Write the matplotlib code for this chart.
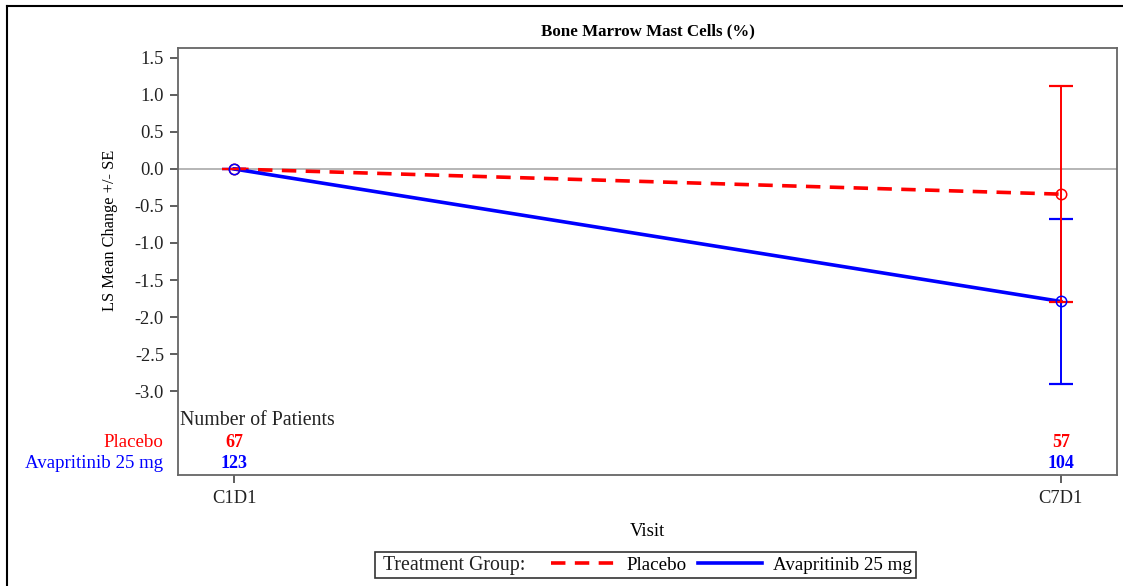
import numpy as np
import matplotlib
matplotlib.use('Agg')
import matplotlib.pyplot as plt
from matplotlib.lines import Line2D
from matplotlib.patches import Rectangle
from matplotlib.ticker import FormatStrFormatter
from matplotlib.transforms import blended_transform_factory

plt.rcParams['font.family'] = 'Liberation Serif'
plt.rcParams['font.size'] = 13
plt.rcParams['axes.unicode_minus'] = False

visits = ['C1D1', 'C7D1']
groups = ['Placebo', 'Avapritinib 25 mg']
colors = ['#ff0000', '#0000ff']
styles = [(0, (4, 2.6)), '-']

# LS mean change and SE per visit
means = {
    'Placebo': [0.0, -0.34],
    'Avapritinib 25 mg': [0.0, -1.79],
}
ses = {
    'Placebo': [0.0, 1.46],
    'Avapritinib 25 mg': [0.0, 1.11],
}
# number of patients per visit
n_patients = {
    'Placebo': [67, 57],
    'Avapritinib 25 mg': [123, 104],
}

W, H = 1123, 586
fig = plt.figure(figsize=(W / 100, H / 100), dpi=100)
ax = fig.add_axes([178 / W, 1 - 475 / H, (1117 - 178) / W, (475 - 48) / H])

x = np.arange(len(visits))
ax.axhline(0, color='#b0b0b0', lw=1.3, zorder=1)

# mean lines: blue solid, red dashed
ax.plot(x, means['Avapritinib 25 mg'], color=colors[1], ls=styles[1],
        lw=2.6, zorder=4)
ax.plot(x, means['Placebo'], color=colors[0], ls=styles[0], lw=2.6,
        zorder=3)
# error bars, placebo on top
ax.errorbar(x, means['Avapritinib 25 mg'], yerr=ses['Avapritinib 25 mg'],
            fmt='none', ecolor=colors[1], elinewidth=1.4, capsize=8.6,
            capthick=1.6, zorder=5)
ax.errorbar(x, means['Placebo'], yerr=ses['Placebo'], fmt='none',
            ecolor=colors[0], elinewidth=1.4, capsize=8.6, capthick=1.6,
            zorder=6)
# open circle markers, blue last
for zo, i in [(7, 0), (8, 1)]:
    ax.plot(x, means[groups[i]], 'o', mfc='none', mec=colors[i], ms=7.5,
            mew=1.1, zorder=zo)

ax.set_xlim(-0.068, 1.068)
ax.set_ylim(-4.135, 1.635)
ax.set_xticks(x)
ax.set_xticklabels(visits)
ax.set_yticks(np.arange(-3.0, 1.51, 0.5))
ax.yaxis.set_major_formatter(FormatStrFormatter('%.1f'))
ax.tick_params(axis='both', direction='out', length=6, width=1.1,
               colors='#333333', labelcolor='#222222', labelsize=13.3)
ax.tick_params(axis='x', pad=5)
ax.tick_params(axis='y', pad=4)
for sp in ax.spines.values():
    sp.set_color('#666666')
    sp.set_linewidth(1.3)

ax.set_title('Bone Marrow Mast Cells (%)', fontweight='bold', fontsize=12.2,
             pad=9)
ax.set_ylabel('LS Mean Change +/- SE', fontsize=11.8)
ax.yaxis.set_label_coords(-0.064, 0.574)
ax.set_xlabel('Visit', fontsize=13.5, labelpad=11)

# patient count table inside the plot area
tr = blended_transform_factory(ax.transData, ax.transAxes)
ax.text(0.002, 0.128, 'Number of Patients', transform=ax.transAxes,
        ha='left', va='center', fontsize=14.3, color='#222222')
row_y = [0.075, 0.026]
for i, g in enumerate(groups):
    ax.text(-0.016, row_y[i], g, transform=ax.transAxes, ha='right',
            va='center', color=colors[i], fontsize=13.6)
    for xi, n in zip(x, n_patients[g]):
        ax.text(xi, row_y[i], str(n), transform=tr, ha='center',
                va='center', color=colors[i], fontweight='bold', fontsize=13)

# legend box at the bottom
fig.patches.append(Rectangle((375 / W, 1 - 578 / H), (916 - 375) / W,
                             26 / H, transform=fig.transFigure,
                             fill=False, ec='#333333', lw=1.2))
fig.text(383 / W, 1 - 570 / H, 'Treatment Group:', ha='left',
         va='baseline', fontsize=14.3, color='#222222')
handles = [Line2D([], [], color=colors[i], ls=styles[i], lw=2.6)
           for i in range(len(groups))]
fig.legend(handles, groups, loc='center left',
           bbox_to_anchor=(551 / W, 1 - 565 / H), frameon=False, ncol=2,
           handlelength=3.4, handletextpad=0.55, columnspacing=0.6,
           fontsize=13.7, borderaxespad=0, borderpad=0)

# outer frame
fig.add_artist(Line2D([7 / W, 7 / W], [0, 1 - 6 / H], color='black', lw=1.5,
                      transform=fig.transFigure))
fig.add_artist(Line2D([7 / W, 1], [1 - 6 / H, 1 - 6 / H], color='black',
                      lw=1.5, transform=fig.transFigure))

fig.savefig('out.png', dpi=100)
